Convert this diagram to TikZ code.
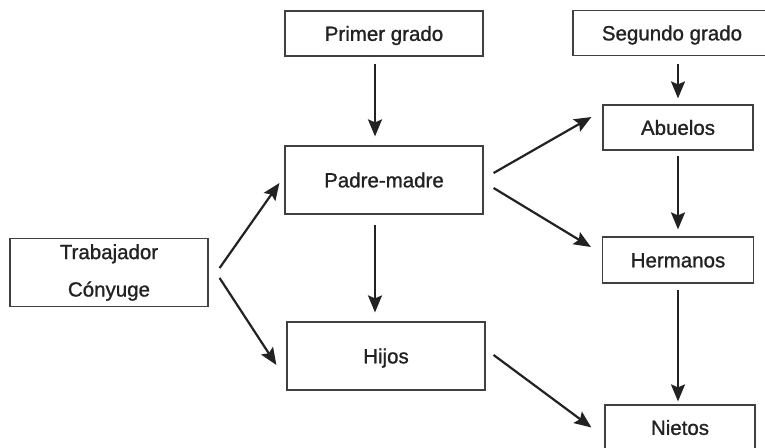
\documentclass[tikz,border=0pt]{standalone}
\usepackage{fontspec}
\newfontfamily\labelfont{Liberation Sans}[FakeBold=1.1]
\usetikzlibrary{arrows.meta}
\definecolor{ink}{HTML}{222222}
\definecolor{frame}{HTML}{404040}

\begin{document}
\begin{tikzpicture}[x=1pt, y=-1pt, font=\labelfont\fontsize{20.5}{37.4}\selectfont, text=ink,
  box/.style={draw=frame, line width=1.2pt, inner sep=0pt, minimum width=198pt, minimum height=45pt, text height=14.7pt, text depth=0pt},
  arr/.style={draw=ink, line width=2.2pt, -{Stealth[length=17pt, width=14pt, inset=3pt]}}]

\useasboundingbox (0,0) rectangle (765,447);
\clip (0,0) rectangle (765,447);

% first degree column
\node[box] (primer) at (384,33.5) {Primer grado};
\node[box, minimum height=68pt] (padre) at (384,180) {Padre-madre};
\node[box, minimum height=68pt] (hijos) at (386,356) {Hijos};

% worker
\node[box, minimum height=68pt, align=center, text height={}, text depth={}] (trab) at (109,272.5) {Trabajador\\Cónyuge};

% second degree column
\node[box] (segundo) at (672,33) {Segundo grado};
\node[box, minimum width=150pt] (abuelos) at (678,127.5) {Abuelos};
\node[box, minimum width=151pt, minimum height=46pt] (hermanos) at (678,260) {Hermanos};
\node[box, minimum width=150pt] (nietos) at (680,427.5) {Nietos};

% arrows
\draw[arr] ([xshift=-9pt, yshift=-7pt]primer.south) -- ([xshift=-9pt, yshift=9pt]padre.north);
\draw[arr] ([xshift=-9pt, yshift=-10pt]padre.south) -- ([xshift=-11pt, yshift=9pt]hijos.north);
\draw[arr] ([xshift=11pt, yshift=4.5pt]trab.east) -- ([xshift=-5pt, yshift=-3pt]padre.west);
\draw[arr] ([xshift=11pt, yshift=-5.5pt]trab.east) -- ([xshift=-10pt, yshift=-9pt]hijos.west);
\draw[arr] ([xshift=10pt, yshift=7pt]padre.east) -- ([xshift=-11pt, yshift=10.5pt]abuelos.west);
\draw[arr] ([xshift=10pt, yshift=-8pt]padre.east) -- ([xshift=-11pt, yshift=13pt]hermanos.west);
\draw[arr] ([xshift=8pt, yshift=1pt]hijos.east) -- ([xshift=-13pt]nietos.west);
\draw[arr, shorten <=8pt, shorten >=6pt] (segundo.south -| abuelos.north) -- (abuelos.north);
\draw[arr] ([yshift=-5pt]abuelos.south) -- ([yshift=7pt]hermanos.north);
\draw[arr, shorten <=6pt, shorten >=3pt] (hermanos.south) -- (hermanos.south |- nietos.north);

\end{tikzpicture}
\end{document}
